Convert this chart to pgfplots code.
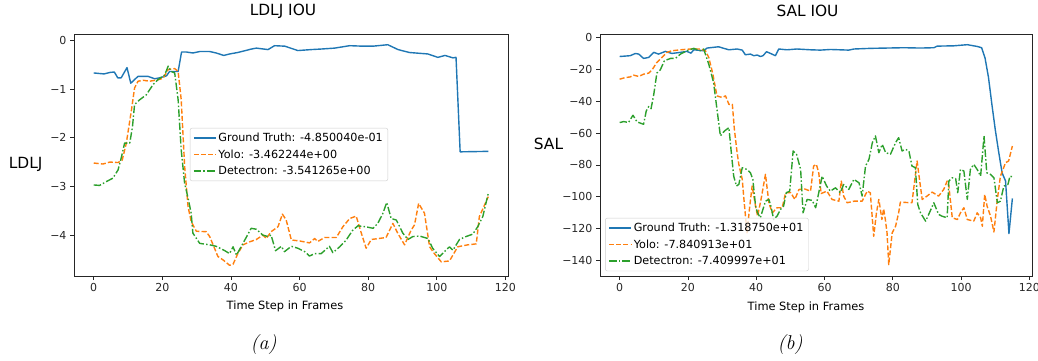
\documentclass[border=0pt]{standalone}
\usepackage{fontspec}
\setsansfont{DejaVu Sans}
\usepackage{pgfplots}
\pgfplotsset{compat=1.18}
\definecolor{tabblue}{HTML}{1F77B4}
\definecolor{taborange}{HTML}{FF7F0E}
\definecolor{tabgreen}{HTML}{2CA02C}
\pgfplotsset{
 mpl/.style={
  scale only axis, height=242pt,
  axis line style={black!85, line width=0.8pt},
  tick align=outside, tick pos=left,
  major tick length=4pt,
  every tick/.style={black!85, line width=0.8pt},
  tick label style={font=\sffamily\fontsize{11}{13}\selectfont, black!85},
  xmin=-5.75, xmax=120.75,
  xtick={0,20,40,60,80,100,120},
  xticklabels={0,20,40,60,80,100,120},
  legend cell align=left,
  legend style={font=\sffamily\fontsize{11.2}{13}\selectfont, draw=black!20, rounded corners=2pt,
    fill=white, fill opacity=0.8, text opacity=1, inner sep=3pt, row sep=2.5pt},
  legend image code/.code={\draw[##1] (0pt,0pt) -- (22pt,0pt);},
 },
 gt/.style={tabblue, line width=1.4pt, line join=round},
 yolo/.style={taborange, line width=1.4pt, line join=round, dash pattern=on 5pt off 2.2pt},
 det/.style={tabgreen, line width=1.4pt, line join=round, dash pattern=on 7.5pt off 2.2pt on 1.5pt off 2.2pt},
}
\begin{document}
\begin{tikzpicture}
\useasboundingbox (0,0) rectangle (1038pt,360pt);
% ---------- (a) LDLJ ----------
\begin{axis}[mpl, width=434pt, at={(74pt,84pt)}, anchor=south west,
  ymin=-4.84, ymax=0.13,
  ytick={0,-1,-2,-3,-4}, yticklabels={0,−1,−2,−3,−4},
  legend style={at={(0.267,0.612)}, anchor=north west}]
\addplot[gt] coordinates {(0,-0.67)(3,-0.69)(4.7,-0.66)(6,-0.65)(7,-0.77)(8,-0.77)(9.7,-0.56)(10.8,-0.88)(12.9,-0.74)(15.8,-0.74)(17.8,-0.79)(19.2,-0.77)(21.2,-0.73)(22.1,-0.64)(24.6,-0.64)(25.6,-0.24)(27,-0.24)(28.9,-0.26)(30.9,-0.23)(33.8,-0.23)(35.7,-0.26)(37.9,-0.31)(39.6,-0.28)(42,-0.25)(45.9,-0.18)(47.4,-0.16)(50.8,-0.19)(52.7,-0.11)(55.7,-0.12)(59.5,-0.21)(63.4,-0.19)(66,-0.18)(70.2,-0.16)(74.6,-0.11)(78.4,-0.12)(81.4,-0.12)(85.7,-0.09)(88.7,-0.19)(92,-0.25)(97.4,-0.28)(100.3,-0.35)(102.4,-0.31)(104.7,-0.36)(105.6,-0.35)(106.8,-2.29)(115,-2.28)};
\addlegendentry{Ground Truth: -4.850040e-01}
\addplot[yolo] coordinates {(0,-2.52)(2.7,-2.54)(4.7,-2.50)(7.1,-2.51)(8.3,-2.46)(9.5,-2.11)(11,-1.43)(11.9,-0.98)(12.9,-0.84)(14.4,-0.82)(16.3,-0.84)(18.7,-0.81)(20.2,-0.78)(21.7,-0.60)(23.6,-0.58)(24.6,-0.64)(25.5,-1.22)(26.5,-2.59)(27.5,-3.42)(28.4,-3.72)(29.9,-3.92)(32.8,-3.93)(33.8,-4.03)(34.8,-4.20)(36.2,-4.44)(37.7,-4.51)(39.6,-4.62)(40.6,-4.60)(42,-4.38)(43.5,-4.20)(45.4,-4.14)(47.4,-4.09)(49.3,-4.0)(50.3,-4.07)(51.7,-3.93)(53.7,-3.83)(55,-3.57)(56.1,-3.69)(57.6,-4.10)(60,-4.12)(62.9,-4.16)(64.4,-4.07)(65.3,-4.13)(67.3,-4.05)(70.7,-4.05)(72.6,-3.83)(74.6,-3.66)(76.5,-3.61)(78,-3.96)(79.4,-4.27)(80.9,-4.09)(85.2,-4.05)(87.2,-3.76)(88.6,-3.96)(90.6,-4.20)(92.5,-3.90)(93.5,-3.79)(94.7,-3.35)(96.4,-3.55)(97.9,-4.24)(99.3,-4.38)(101.3,-4.55)(103.7,-4.53)(106.1,-4.24)(109,-4.20)(111.5,-4.18)(112.4,-3.62)(115,-3.21)};
\addlegendentry{Yolo: -3.462244e+00}
\addplot[det] coordinates {(0,-2.97)(1.7,-2.98)(3.7,-2.90)(5.6,-2.83)(7.1,-2.66)(8.1,-2.39)(9,-2.11)(10.5,-2.11)(11.3,-1.77)(11.9,-1.32)(13.4,-1.22)(15.3,-1.12)(17.3,-0.91)(18.7,-0.81)(20.7,-0.71)(21.7,-0.53)(22.6,-0.64)(23.6,-0.67)(24.6,-1.22)(25.5,-2.25)(26.5,-2.94)(27.5,-3.24)(28.4,-3.55)(28.9,-3.96)(30.9,-4.17)(33.8,-4.20)(35.7,-4.23)(38.2,-4.32)(39.6,-4.38)(40.6,-4.24)(41.6,-4.41)(43.5,-4.17)(45.9,-3.86)(47.4,-3.88)(49.3,-4.00)(50.8,-4.03)(51.7,-4.00)(53,-4.32)(54.7,-4.23)(55.6,-4.34)(57.6,-4.23)(59.5,-4.27)(61.5,-4.34)(62.9,-4.43)(64.4,-4.38)(66.3,-4.38)(68.7,-4.23)(69.7,-4.36)(71.7,-4.24)(73.6,-4.10)(75.5,-3.90)(77,-3.81)(79.4,-3.83)(81.4,-3.86)(82.8,-3.76)(84.3,-3.55)(85.4,-3.33)(86.7,-3.66)(88.2,-3.69)(90.1,-3.96)(91.6,-4.09)(93,-4.03)(95,-4.02)(97.4,-4.07)(98.8,-4.27)(100.8,-4.44)(102.2,-4.34)(103.7,-4.24)(104.7,-4.31)(106.6,-4.09)(108.5,-4.03)(110.5,-3.98)(111.9,-3.83)(113.4,-3.62)(115,-3.14)};
\addlegendentry{Detectron: -3.541265e+00}
\end{axis}
% ---------- (b) SAL ----------
\begin{axis}[mpl, width=432pt, at={(600pt,84pt)}, anchor=south west,
  ymin=-149.6, ymax=2.1,
  ytick={0,-20,-40,-60,-80,-100,-120,-140}, yticklabels={0,−20,−40,−60,−80,−100,−120,−140},
  legend style={at={(0.012,0.02)}, anchor=south west}]
\addplot[gt] coordinates {(0,-12)(3.1,-11.5)(4.6,-10.1)(5.6,-10.5)(7,-13.2)(8.5,-12.6)(10,-9.4)(11.4,-10.5)(13.4,-8.8)(15.3,-10.1)(17.8,-9.4)(19.7,-8.8)(20.9,-9.9)(21.7,-7.8)(24.6,-8.4)(25.6,-6.7)(29,-5.9)(30.5,-6.9)(32,-7.8)(34.4,-7.3)(35.9,-8.0)(36.8,-10.9)(38.3,-10.5)(39.3,-11.5)(40.3,-11.1)(41.2,-12.0)(42,-11.5)(43,-9.0)(44.2,-10.1)(45.6,-11.5)(46.6,-7.3)(49,-7.8)(51.9,-7.3)(55.9,-7.8)(58.8,-8.0)(61.7,-7.6)(67.1,-8.0)(68.6,-7.3)(73.4,-6.9)(78.3,-6.7)(83.2,-6.5)(88.1,-6.7)(92,-6.5)(93,-5.5)(97.9,-5.3)(101.8,-4.6)(104.7,-5.7)(106,-6.5)(107,-13)(108,-25)(109,-42)(110,-58)(111,-72)(112,-85)(113,-90)(114,-123)(115,-101)};
\addlegendentry{Ground Truth: -1.318750e+01}
\addplot[yolo] coordinates {(0,-26.2)(1.7,-25.2)(3.1,-24.8)(4.1,-23.7)(5.6,-24.5)(7,-23.1)(8.5,-22.4)(9.5,-20.4)(10.9,-15.7)(12.4,-12.6)(13.9,-9.4)(15.3,-8.4)(17.8,-7.8)(20.7,-7.3)(23.6,-7.3)(25.1,-8.4)(26.1,-12.6)(27.3,-23.1)(28.5,-36.7)(30,-37.7)(31,-36.7)(32,-42)(33,-42)(33.6,-57.7)(34.4,-72.3)(34.9,-79.6)(35.9,-89)(36.4,-101.6)(37.3,-122.6)(38.1,-105.8)(38.8,-93.2)(39.8,-105.8)(40.4,-112)(41.4,-101.6)(42.7,-85.9)(43.7,-103.7)(44.7,-110)(46.1,-106.8)(47.6,-106.8)(48.6,-97.4)(50.1,-97.4)(51.3,-101.6)(52.5,-95.4)(54,-94.9)(55.9,-96.4)(56.8,-80.7)(57.6,-79.6)(58.3,-84.9)(59,-97.9)(60.7,-96.4)(62.2,-101.6)(64.2,-102.7)(64.9,-90.1)(65.6,-99.5)(66.6,-103.7)(68.6,-102.7)(71,-102.7)(72.5,-96.4)(73.4,-97.4)(74.4,-124.7)(75.2,-110)(75.9,-101.6)(76.8,-114.2)(77.3,-107.5)(77.8,-114.2)(78.3,-122.6)(78.8,-142.5)(79.8,-122.6)(80.8,-118.4)(81.7,-110)(82.2,-103.3)(85.6,-103.7)(87.1,-77.5)(87.8,-89)(88.6,-101.6)(90,-99.5)(91.5,-97)(93.4,-99.5)(94.9,-95.3)(95.9,-90.1)(96.4,-93.2)(97.4,-113.1)(98.9,-114.2)(99.8,-110)(100.8,-106.8)(101.8,-114.2)(103.7,-115.2)(104.7,-110)(105.7,-113.1)(106.2,-118.4)(106.9,-98.5)(107.6,-105.8)(108.6,-112)(109.6,-122)(110.6,-101.6)(111.5,-87)(113,-78.6)(113.9,-77.5)(115,-68.1)};
\addlegendentry{Yolo: -7.840913e+01}
\addplot[det] coordinates {(0,-53.4)(1.2,-52.8)(2.6,-53.4)(3.9,-48.8)(5.1,-53)(7,-54.5)(7.8,-46.1)(8.5,-43.4)(9.2,-44.7)(10,-35.7)(10.9,-22.4)(11.9,-20.4)(13.1,-14.7)(14.9,-13.2)(16.3,-13.2)(17.8,-10.5)(19.7,-8.4)(21.7,-6.9)(23.6,-8.4)(24.6,-7.3)(26.1,-16.8)(27.5,-28.3)(28.5,-45)(29.5,-61.8)(30.7,-58.7)(32,-56.6)(32.7,-72.3)(33.4,-87)(34.2,-93.2)(34.9,-92.2)(35.9,-81.7)(37.3,-82.8)(38.3,-84.9)(39,-89)(39.8,-105.8)(40.4,-110)(41.2,-113.1)(42.7,-102.7)(43.7,-101.6)(44.3,-105.8)(45.1,-114.2)(46.1,-112)(47.1,-107.9)(48,-105.8)(48.8,-97.4)(49.8,-96.4)(50.8,-71.2)(51.8,-73.3)(53,-82.8)(53.7,-110)(54.9,-101.6)(56.4,-102.2)(57.4,-106.8)(58.3,-97.4)(59.3,-87)(60.6,-93.2)(61.7,-96.4)(63.2,-94.3)(64.6,-97.4)(65.6,-92.2)(67.1,-95.3)(68.6,-89)(70.1,-91.2)(71,-99.5)(72,-80.7)(73,-76.5)(74,-66)(74.9,-61.8)(75.9,-72.3)(76.9,-67.1)(77.9,-72.3)(79.3,-73.3)(80.8,-66)(81.7,-62.9)(82.7,-71.2)(83.7,-70.2)(84.7,-71.2)(85.6,-80.7)(86.6,-81.7)(87.3,-104.8)(88.1,-110)(89.6,-115.2)(90.5,-111)(92,-103.7)(93.4,-111)(94.4,-112.1)(95.9,-113.1)(96.4,-90.1)(97.4,-88)(98.4,-88.6)(99,-97.4)(99.8,-82.8)(100.8,-83.8)(101.8,-101.6)(102.7,-82.8)(103.7,-79.6)(104.7,-82.8)(105.7,-87)(106.7,-61.8)(107.5,-84.9)(108.6,-85.9)(109.6,-88)(110.6,-103.7)(111.5,-102.7)(112.5,-93.2)(113.7,-92.2)(114.3,-87)(115,-87.4)};
\addlegendentry{Detectron: -7.409997e+01}
\end{axis}
% ---------- texts ----------
\node[font=\sffamily\fontsize{15.4}{18}\selectfont, anchor=base] at (283pt,345pt) {LDLJ IOU};
\node[font=\sffamily\fontsize{15.4}{18}\selectfont, anchor=base] at (807.5pt,344pt) {SAL IOU};
\node[font=\sffamily\fontsize{15.4}{18}\selectfont, anchor=base] at (25.7pt,192pt) {LDLJ};
\node[font=\sffamily\fontsize{15.4}{18}\selectfont, anchor=base] at (548.5pt,211pt) {SAL};
\node[font=\sffamily\fontsize{11.4}{13}\selectfont, anchor=base] at (285pt,50.5pt) {Time Step in Frames};
\node[font=\sffamily\fontsize{11.4}{13}\selectfont, anchor=base] at (806pt,50pt) {Time Step in Frames};
\node[font=\rmfamily\itshape\fontsize{20}{22}\selectfont, anchor=base] at (263.5pt,11pt) {(a)};
\node[font=\rmfamily\itshape\fontsize{20}{22}\selectfont, anchor=base] at (790pt,11pt) {(b)};
\end{tikzpicture}
\end{document}
